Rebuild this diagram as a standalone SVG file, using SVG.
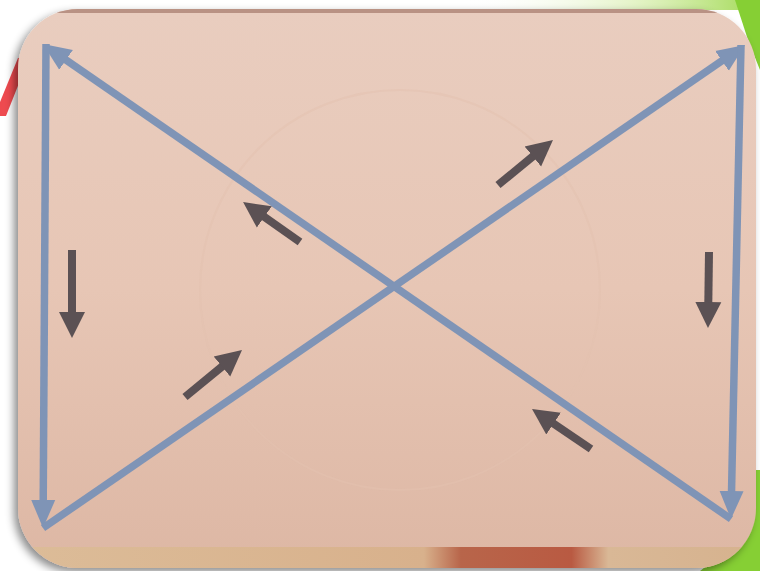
<svg xmlns="http://www.w3.org/2000/svg" width="760" height="571" viewBox="0 0 760 571">
  <style>
    .blue { fill: none; stroke: #7f94b6; stroke-width: 7.5; stroke-linecap: butt; marker-end: url(#bhead); }
    .dark { fill: none; stroke: #5b5154; stroke-width: 8; stroke-linecap: butt; marker-end: url(#dhead); }
  </style>
  <defs>
    <marker id="bhead" markerUnits="userSpaceOnUse" viewBox="0 -15 32 30" markerWidth="32" markerHeight="30" refX="2" refY="0" orient="auto">
      <path d="M0,-12 L28,0 L0,12 z" fill="#7f94b6"/>
    </marker>
    <marker id="dhead" markerUnits="userSpaceOnUse" viewBox="0 -15 32 30" markerWidth="32" markerHeight="30" refX="2" refY="0" orient="auto">
      <path d="M0,-13 L26,0 L0,13 z" fill="#5b5154"/>
    </marker>
    <linearGradient id="cardg" x1="0" y1="0" x2="0" y2="1">
      <stop offset="0" stop-color="#e9cdbf"/>
      <stop offset="0.5" stop-color="#e7c6b5"/>
      <stop offset="1" stop-color="#ddb7a4"/>
    </linearGradient>
    <linearGradient id="woodg" x1="0" y1="0" x2="1" y2="0">
      <stop offset="0" stop-color="#dcbc98"/>
      <stop offset="0.55" stop-color="#d8b18c"/>
      <stop offset="0.6" stop-color="#b8654a"/>
      <stop offset="0.75" stop-color="#b95a42"/>
      <stop offset="0.8" stop-color="#d9b896"/>
      <stop offset="1" stop-color="#d6b28e"/>
    </linearGradient>
    <linearGradient id="topg" x1="0" y1="0" x2="1" y2="0">
      <stop offset="0" stop-color="#ffffff" stop-opacity="0"/>
      <stop offset="0.6" stop-color="#d9efb0" stop-opacity="0.7"/>
      <stop offset="1" stop-color="#a8dc60"/>
    </linearGradient>
    <filter id="shadow" x="-5%" y="-5%" width="110%" height="110%">
      <feDropShadow dx="-4" dy="4" stdDeviation="4" flood-color="#000" flood-opacity="0.45"/>
    </filter>
    <clipPath id="frameclip">
      <rect x="18" y="9" width="738" height="559" rx="60" ry="60"/>
    </clipPath>
  </defs>

  <rect x="0" y="0" width="760" height="571" fill="#ffffff"/>
  <polygon points="18,58 29,58 6,116 0,116 0,102" fill="#ee4a4f"/>
  <rect x="460" y="0" width="290" height="10" fill="url(#topg)"/>
  <path d="M735,0 L760,0 L760,70 L748,40 z" fill="#86cf34"/>
  <path d="M745,470 L760,470 L760,571 L700,571 L740,540 z" fill="#86cf34"/>

  <g id="card">
    <rect x="18" y="9" width="738" height="559" rx="60" ry="60" fill="url(#cardg)" filter="url(#shadow)"/>
    <g clip-path="url(#frameclip)">
      <rect x="18" y="9" width="738" height="4" fill="#b99284"/>
      <rect x="18" y="547" width="738" height="21" fill="url(#woodg)"/>
      <circle cx="400" cy="290" r="200" fill="none" stroke="#e3c2b0" stroke-width="2" opacity="0.5"/>
    </g>
  </g>

  <g id="connectors">
    <path class="blue" d="M731,519 L64.4,58.8"/>
    <path class="blue" d="M46,44 L43.2,502"/>
    <path class="blue" d="M43,528 L723.6,59.7"/>
    <path class="blue" d="M741,45 L731.5,493"/>
  </g>

  <g id="direction-arrows">
    <path class="dark" d="M72,250 L72,314"/>
    <path class="dark" d="M709,252 L708.3,304"/>
    <path class="dark" d="M300,242 L262.7,215.8"/>
    <path class="dark" d="M185,397 L223.5,365.3"/>
    <path class="dark" d="M498,185 L534.4,155.2"/>
    <path class="dark" d="M591,449 L551.9,422.5"/>
  </g>
</svg>
